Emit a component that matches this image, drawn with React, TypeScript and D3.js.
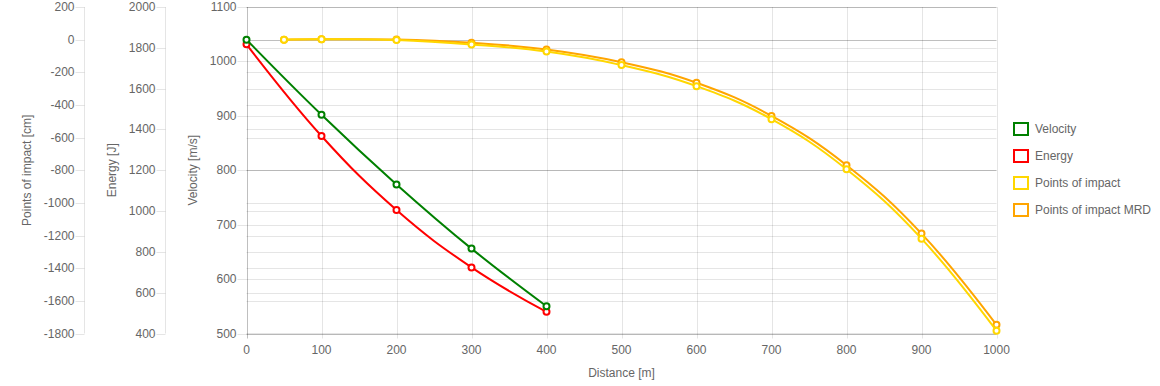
import React from 'react';
import * as d3 from 'd3';

// distance in m
const distances = [0, 100, 200, 300, 400];
const velocity = [1040, 902, 774, 656, 550];
const energy = [1817, 1368, 1005, 724, 506];

const poiDistances = [50, 100, 200, 300, 400, 500, 600, 700, 800, 900, 1000];
const poi = [0, 2, -2, -29, -73, -156, -285, -487, -794, -1219, -1783];
const poiMrd = [0, 2, 1, -19, -60, -138, -264, -467, -769, -1188, -1747];

const xTicks = d3.range(0, 1001, 100);
const velocityTicks = d3.range(500, 1101, 100);
const energyTicks = d3.range(400, 2001, 200);
const poiTicks = d3.range(-1800, 201, 200);

const legendItems = [
  { name: 'Velocity', color: '#008000' },
  { name: 'Energy', color: '#ff0000' },
  { name: 'Points of impact', color: '#ffd700' },
  { name: 'Points of impact MRD', color: '#ffa500' },
];

const W = 1160,
  H = 386,
  top = 7,
  bottom = 333.5,
  left = 246.5,
  right = 996.5;
const poiAxisX = 84.5,
  energyAxisX = 165.5;

const font = "'Liberation Sans', Arial, sans-serif";
const textColor = '#666';
const grid = 'rgba(0,0,0,0.1)';
const zero = 'rgba(0,0,0,0.25)';

export default function App() {
  const x = d3.scaleLinear().domain([0, 1000]).range([left, right]);
  const yVel = d3.scaleLinear().domain([500, 1100]).range([bottom, top]);
  const yEn = d3.scaleLinear().domain([400, 2000]).range([bottom, top]);
  const yPoi = d3.scaleLinear().domain([-1800, 200]).range([bottom, top]);

  const curve = d3.curveCardinal.tension(-0.2);
  const line = (xs: number[], ys: number[], y: d3.ScaleLinear<number, number>) =>
    d3
      .line<number>()
      .x((_, i) => x(xs[i]))
      .y((d) => y(d))
      .curve(curve)(ys) as string;

  // drawn back to front, like the original (first dataset on top)
  const series = [
    { xs: poiDistances, ys: poiMrd, y: yPoi, color: legendItems[3].color },
    { xs: poiDistances, ys: poi, y: yPoi, color: legendItems[2].color },
    { xs: distances, ys: energy, y: yEn, color: legendItems[1].color },
    { xs: distances, ys: velocity, y: yVel, color: legendItems[0].color },
  ];

  const yAxis = (
    scale: d3.ScaleLinear<number, number>,
    ticks: number[],
    axisX: number,
    title: string,
    titleX: number,
    key: string
  ) => (
    <g key={key}>
      {ticks.map((t) => (
        <g key={t}>
          <line
            x1={axisX - 9}
            x2={axisX}
            y1={Math.round(scale(t)) + 0.5}
            y2={Math.round(scale(t)) + 0.5}
            stroke={grid}
          />
          <line
            x1={left}
            x2={right}
            y1={Math.round(scale(t)) + 0.5}
            y2={Math.round(scale(t)) + 0.5}
            stroke={t === 0 && key === 'poi' ? zero : grid}
          />
          <text
            x={axisX - 10}
            y={scale(t)}
            textAnchor="end"
            dominantBaseline="central"
            fill={textColor}
            fontSize={12}
            fontFamily={font}
          >
            {t}
          </text>
        </g>
      ))}
      {axisX !== left && <line x1={axisX} x2={axisX} y1={top} y2={bottom} stroke={grid} />}
      <text
        transform={`translate(${titleX},${(top + bottom) / 2}) rotate(-90)`}
        textAnchor="middle"
        dominantBaseline="central"
        fill={textColor}
        fontSize={12}
        fontFamily={font}
      >
        {title}
      </text>
    </g>
  );

  return (
    <svg
      width={W}
      height={H}
      style={{ position: 'absolute', left: 0, top: 0, background: '#fff' }}
    >
      {/* x grid + ticks */}
      {xTicks.map((t) => (
        <g key={t}>
          <line
            x1={Math.round(x(t)) + 0.5}
            x2={Math.round(x(t)) + 0.5}
            y1={top}
            y2={bottom + 5}
            stroke={t === 0 ? zero : grid}
          />
          <text
            x={x(t)}
            y={350}
            textAnchor="middle"
            dominantBaseline="central"
            fill={textColor}
            fontSize={12}
            fontFamily={font}
          >
            {t}
          </text>
        </g>
      ))}
      <line x1={left} x2={right + 0.5} y1={bottom} y2={bottom} stroke={grid} />
      <text
        x={(left + right) / 2}
        y={373}
        textAnchor="middle"
        dominantBaseline="central"
        fill={textColor}
        fontSize={12}
        fontFamily={font}
      >
        Distance [m]
      </text>

      {yAxis(yPoi, poiTicks, poiAxisX, 'Points of impact [cm]', 27, 'poi')}
      {yAxis(yEn, energyTicks, energyAxisX, 'Energy [J]', 112, 'energy')}
      {yAxis(yVel, velocityTicks, left, 'Velocity [m/s]', 193, 'velocity')}

      {series.map((s, si) => (
        <g key={si}>
          <path d={line(s.xs, s.ys, s.y)} fill="none" stroke={s.color} strokeWidth={2} />
          {s.ys.map((v, i) => (
            <circle
              key={i}
              cx={x(s.xs[i])}
              cy={s.y(v)}
              r={3}
              fill="#fff"
              stroke={s.color}
              strokeWidth={2}
            />
          ))}
        </g>
      ))}

      {legendItems.map((d, i) => {
        const cy = 129 + i * 27;
        return (
          <g key={d.name}>
            <rect
              x={1014}
              y={cy - 6}
              width={14}
              height={12}
              fill="rgba(255,255,255,0.6)"
              stroke={d.color}
              strokeWidth={2}
            />
            <text
              x={1035}
              y={cy}
              dominantBaseline="central"
              fill={textColor}
              fontSize={12}
              fontFamily={font}
            >
              {d.name}
            </text>
          </g>
        );
      })}
    </svg>
  );
}
